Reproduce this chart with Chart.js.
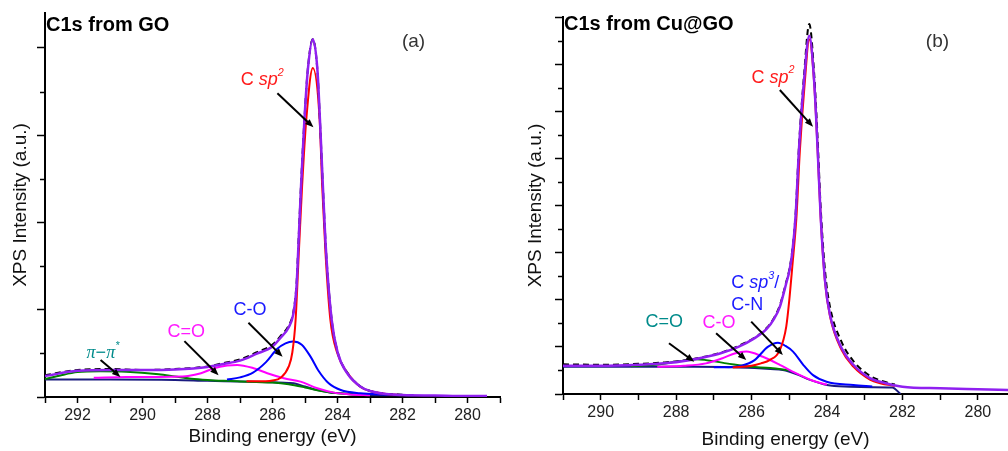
<!DOCTYPE html>
<html>
<head>
<meta charset="utf-8">
<script src="https://cdn.jsdelivr.net/npm/chart.js@4/dist/chart.umd.min.js"></script>
<style>
  body { margin: 0; background: #fff; }
  #wrap { position: relative; width: 1008px; height: 451px; overflow: hidden; }
  canvas { position: absolute; top: 0; }
  #chartA { left: 0; }
  #chartB { left: 505px; }
</style>
</head>
<body>
<div id="wrap">
  <canvas id="chartA" width="505" height="451"></canvas>
  <canvas id="chartB" width="503" height="451"></canvas>
</div>
<script>
// ---- panel (a): C1s from GO ----
const xLabelsA = [292, 290, 288, 286, 284, 282, 280];
const yTicksA = [0, 1, 2, 3, 4];

const envEA = [293, 292, 291, 290, 289, 288, 287.5, 287, 286.5, 286, 285.75, 285.5, 285.36, 285.26, 285.21, 285.12, 285.015, 284.91, 284.76, 284.62, 284.54, 284.45, 284.35, 284.18, 283.99, 283.7, 283.29, 283, 282.5, 282, 281, 280, 279.4];
const envVA = [0.24, 0.30, 0.31, 0.31, 0.316, 0.345, 0.379, 0.417, 0.494, 0.578, 0.68, 0.80, 0.95, 1.27, 1.67, 2.43, 3.195, 3.76, 4.10, 3.76, 3.18, 2.42, 1.655, 0.885, 0.502, 0.272, 0.118, 0.069, 0.034, 0.023, 0.017, 0.011, 0.011];

const rawEA = [293, 292, 291, 290, 289, 288, 287.5, 287, 286.5, 286, 285.75, 285.5, 285.36, 285.26, 285.21, 285.12, 285.015, 284.91, 284.76, 284.62, 284.54, 284.45, 284.35, 284.18, 283.99, 283.7, 283.29, 283, 282.5, 282];
const rawVA = [0.25, 0.31, 0.32, 0.31, 0.32, 0.35, 0.39, 0.43, 0.51, 0.60, 0.70, 0.82, 0.97, 1.30, 1.70, 2.45, 3.2, 3.77, 4.10, 3.75, 3.17, 2.42, 1.66, 0.89, 0.51, 0.28, 0.12, 0.07, 0.035, 0.025];

const sp2EA = [286.8, 286.5, 286, 285.75, 285.5, 285.39, 285.29, 285.19, 285.09, 284.96, 284.76, 284.55, 284.47, 284.37, 284.22, 284.01, 283.7, 283.29, 283, 282.5, 282];
const sp2VA = [0.18, 0.18, 0.19, 0.22, 0.35, 0.51, 0.88, 1.655, 2.41, 3.18, 3.77, 3.18, 2.41, 1.655, 0.885, 0.506, 0.276, 0.115, 0.069, 0.034, 0.023];

const coEA = [287.4, 287.0, 286.6, 286.2, 285.86, 285.6, 285.37, 285.1, 284.83, 284.6, 284.27, 283.9, 283.3, 282.5, 282];
const coVA = [0.20, 0.225, 0.28, 0.40, 0.55, 0.615, 0.636, 0.60, 0.463, 0.31, 0.157, 0.08, 0.043, 0.03, 0.023];

const c2oEA = [291.5, 290.5, 289.5, 288.8, 288.6, 288.2, 287.8, 287.39, 287.09, 286.58, 286.16, 285.65, 285.14, 284.62, 284.11, 283.6, 283];
const c2oVA = [0.22, 0.23, 0.23, 0.235, 0.24, 0.272, 0.33, 0.36, 0.368, 0.33, 0.272, 0.215, 0.176, 0.10, 0.05, 0.03, 0.02];

const piEA = [293, 292.5, 292, 291.3, 290.5, 289.5, 289, 288.5, 288, 287.5, 287, 286.5, 286, 285.5, 285, 284.5, 284, 283.5, 283];
const piVA = [0.205, 0.25, 0.285, 0.295, 0.29, 0.26, 0.235, 0.21, 0.195, 0.185, 0.178, 0.172, 0.165, 0.145, 0.11, 0.07, 0.043, 0.03, 0.025];

const bgEA = [293, 291, 289, 288, 287, 286, 285.5, 285.35, 285, 284.62, 284.2, 283.9, 283.5, 283.1, 282.5, 281.66];
const bgVA = [0.2, 0.2, 0.195, 0.185, 0.178, 0.168, 0.16, 0.157, 0.12, 0.08, 0.05, 0.043, 0.03, 0.023, 0.02, 0.02];

// ---- panel (b): C1s from Cu@GO ----
const xLabelsB = [290, 288, 286, 284, 282, 280];
const yTicksB = [0, 1, 2, 3, 4, 5, 6, 7, 8];

const envEB = [291, 290, 289, 288.3, 287.7, 287.25, 286.8, 286.35, 285.95, 285.6, 285.4, 285.25, 285.08, 285.0, 284.92, 284.83, 284.74, 284.61, 284.47, 284.34, 284.25, 284.17, 284.05, 283.92, 283.61, 283.3, 282.85, 282.59, 282, 281, 280, 279.2];
const envVB = [0.60, 0.60, 0.62, 0.65, 0.71, 0.78, 0.87, 1.0, 1.17, 1.38, 1.6, 1.85, 2.35, 2.6, 3.0, 3.81, 5.23, 6.64, 7.6, 6.64, 5.23, 3.81, 2.39, 1.68, 0.97, 0.62, 0.33, 0.26, 0.155, 0.12, 0.10, 0.085];

const rawEB = [291, 290, 289, 288.3, 287.7, 287.25, 286.8, 286.35, 285.95, 285.6, 285.4, 285.25, 285.08, 285.0, 284.92, 284.83, 284.74, 284.61, 284.47, 284.34, 284.25, 284.17, 284.05, 283.92, 283.61, 283.3, 282.85, 282.59, 282.2];
const rawVB = [0.63, 0.62, 0.64, 0.67, 0.72, 0.79, 0.88, 1.02, 1.18, 1.40, 1.62, 1.88, 2.38, 2.63, 3.05, 3.85, 5.3, 6.75, 7.85, 6.8, 5.45, 4.0, 2.6, 1.85, 1.1, 0.7, 0.38, 0.29, 0.2];

const sp2EB = [286.5, 286.0, 285.75, 285.52, 285.25, 285.08, 284.99, 284.92, 284.81, 284.72, 284.59, 284.47, 284.34, 284.25, 284.17, 284.05, 283.92, 283.61, 283.3, 282.85, 282.59, 282.2];
const sp2VB = [0.56, 0.6, 0.65, 0.72, 0.93, 1.43, 2.07, 2.7, 3.75, 5.15, 6.6, 7.53, 6.6, 5.2, 3.78, 2.36, 1.65, 0.93, 0.58, 0.3, 0.23, 0.17];

const sp3EB = [287.0, 286.6, 286.27, 285.92, 285.57, 285.3, 285.1, 284.9, 284.63, 284.37, 284.01, 283.3, 282.8];
const sp3VB = [0.57, 0.57, 0.6, 0.72, 1.0, 1.09, 1.02, 0.9, 0.62, 0.40, 0.26, 0.19, 0.16];

const coEB = [288.5, 287.8, 287.21, 286.77, 286.45, 286.14, 285.7, 285.25, 284.9, 284.37, 284.0];
const coVB = [0.58, 0.6, 0.65, 0.76, 0.86, 0.90, 0.79, 0.62, 0.47, 0.28, 0.2];

const c2oEB = [289.2, 288.54, 287.9, 287.47, 286.67, 286.04, 285.5, 285.0];
const c2oVB = [0.59, 0.62, 0.70, 0.74, 0.65, 0.58, 0.55, 0.5];

const bgEB = [291, 289, 287.5, 286.5, 285.92, 285.5, 285.17, 284.8, 284.45, 284.0, 283.39, 282.8, 282.27, 282.05];
const bgVB = [0.58, 0.58, 0.58, 0.57, 0.55, 0.53, 0.51, 0.42, 0.30, 0.19, 0.155, 0.145, 0.14, 0];

const FONT = '"Liberation Sans", Arial, sans-serif';
const SERIF = '"Liberation Serif", "Times New Roman", serif';

function pts(xs, ys) {
    return xs.map((x, i) => ({ x: x, y: ys[i] }));
}

function line(xs, ys, color, width, dash) {
    return {
        data: pts(xs, ys),
        borderColor: color,
        borderWidth: width,
        borderDash: dash || [],
        pointRadius: 0,
        fill: false,
        cubicInterpolationMode: 'monotone'
    };
}

function drawRich(ctx, parts, x, y, color, size) {
    ctx.fillStyle = color;
    ctx.textBaseline = 'middle';
    ctx.textAlign = 'left';
    for (const p of parts) {
        const sz = p.sup ? size * 0.6 : size;
        ctx.font = (p.i ? 'italic ' : '') + sz + 'px ' + (p.serif ? SERIF : FONT);
        ctx.fillText(p.t, x, p.sup ? y - size * 0.42 : y);
        x += ctx.measureText(p.t).width;
    }
}

function drawArrow(ctx, x1, y1, x2, y2) {
    const ang = Math.atan2(y2 - y1, x2 - x1);
    const h = 9;
    ctx.strokeStyle = '#000';
    ctx.fillStyle = '#000';
    ctx.lineWidth = 2;
    ctx.beginPath();
    ctx.moveTo(x1, y1);
    ctx.lineTo(x2 - h * 0.7 * Math.cos(ang), y2 - h * 0.7 * Math.sin(ang));
    ctx.stroke();
    ctx.beginPath();
    ctx.moveTo(x2, y2);
    ctx.lineTo(x2 - h * Math.cos(ang - 0.38), y2 - h * Math.sin(ang - 0.38));
    ctx.lineTo(x2 - h * Math.cos(ang + 0.38), y2 - h * Math.sin(ang + 0.38));
    ctx.closePath();
    ctx.fill();
}

// titles, labels, arrows and the minor y ticks
const decor = {
    id: 'decor',
    afterDraw(chart, args, opts) {
        const { ctx, chartArea: a, scales: { x, y } } = chart;
        ctx.save();
        ctx.strokeStyle = '#000';
        ctx.lineWidth = 1.5;
        for (let v = 0.5; v < y.max; v += 1) {
            const py = Math.round(y.getPixelForValue(v)) + 0.5;
            ctx.beginPath();
            ctx.moveTo(a.left - 5, py);
            ctx.lineTo(a.left, py);
            ctx.stroke();
        }
        ctx.fillStyle = '#000';
        ctx.font = 'bold 20px ' + FONT;
        ctx.textAlign = 'left';
        ctx.textBaseline = 'alphabetic';
        ctx.fillText(opts.title, a.left + 1, a.top + opts.titleDy);

        ctx.fillStyle = '#333';
        ctx.font = '19px ' + FONT;
        ctx.textAlign = 'center';
        ctx.textBaseline = 'middle';
        ctx.fillText(opts.tag, x.getPixelForValue(opts.tagAt[0]), y.getPixelForValue(opts.tagAt[1]));

        opts.notes.forEach(n => drawRich(ctx, n.parts, x.getPixelForValue(n.x), y.getPixelForValue(n.y), n.color, 18));
        opts.arrows.forEach(r => drawArrow(ctx, x.getPixelForValue(r[0]), y.getPixelForValue(r[1]),
            x.getPixelForValue(r[2]), y.getPixelForValue(r[3])));
        ctx.restore();
    }
};

const RED = '#ff1a1a', BLUE = '#1a1aff', PINK = '#ff1aff', TEAL = '#008b8b';

const notesA = [
    { x: 286.98, y: 3.63, color: RED, parts: [{ t: 'C ' }, { t: 'sp', i: 1 }, { t: '2', i: 1, sup: 1 }] },
    { x: 287.2, y: 1.0, color: BLUE, parts: [{ t: 'C-O' }] },
    { x: 289.23, y: 0.745, color: PINK, parts: [{ t: 'C=O' }] },
    { x: 291.72, y: 0.50, color: TEAL, parts: [{ t: 'π', i: 1, serif: 1 }, { t: '−' }, { t: 'π', i: 1, serif: 1 }, { t: '*', i: 1, sup: 1 }] }
];
const arrowsA = [
    [285.85, 3.48, 284.74, 3.09],
    [286.74, 0.85, 285.69, 0.46],
    [288.71, 0.64, 287.66, 0.25],
    [291.29, 0.424, 290.68, 0.23]
];

const notesB = [
    { x: 286.0, y: 6.71, color: RED, parts: [{ t: 'C ' }, { t: 'sp', i: 1 }, { t: '2', i: 1, sup: 1 }] },
    { x: 286.54, y: 2.35, color: BLUE, parts: [{ t: 'C ' }, { t: 'sp', i: 1 }, { t: '3', i: 1, sup: 1 }, { t: '/' }] },
    { x: 286.54, y: 1.89, color: BLUE, parts: [{ t: 'C-N' }] },
    { x: 287.30, y: 1.50, color: PINK, parts: [{ t: 'C-O' }] },
    { x: 288.81, y: 1.535, color: TEAL, parts: [{ t: 'C=O' }] }
];
const arrowsB = [
    [285.25, 6.45, 284.37, 5.67],
    [286.01, 1.535, 285.17, 0.828],
    [286.94, 1.29, 286.14, 0.72],
    [288.19, 1.076, 287.52, 0.686]
];

function makePanel(id, p) {
    const ctx = document.getElementById(id).getContext('2d');
    return new Chart(ctx, {
        type: 'line',
        data: { datasets: p.datasets },
        plugins: [decor],
        options: {
            responsive: false,
            animation: false,
            devicePixelRatio: 1,
            layout: { padding: { top: p.top, right: p.right, bottom: 0, left: 0 } },
            plugins: {
                legend: { display: false },
                tooltip: { enabled: false },
                decor: { title: p.title, titleDy: p.titleDy, tag: p.tag, tagAt: p.tagAt, notes: p.notes, arrows: p.arrows }
            },
            scales: {
                x: {
                    type: 'linear',
                    reverse: true,
                    min: p.xMin,
                    max: p.xMax,
                    afterBuildTicks: s => {
                        const t = [];
                        for (let v = Math.ceil(s.min); v <= Math.floor(s.max); v++) t.push({ value: v });
                        s.ticks = t;
                    },
                    afterFit: s => { s.height = p.xAxisH; },
                    ticks: {
                        autoSkip: false,
                        maxRotation: 0,
                        padding: 3,
                        color: '#222',
                        font: { family: FONT, size: 16 },
                        callback: v => p.xLabels.includes(v) ? String(v) : ''
                    },
                    grid: { drawOnChartArea: false, tickLength: 6, tickWidth: 1.5, tickColor: '#000' },
                    border: { color: '#000', width: 2 },
                    title: {
                        display: true,
                        text: 'Binding energy (eV)',
                        color: '#111',
                        font: { family: FONT, size: 19 },
                        padding: { top: 0, bottom: p.xTitlePad }
                    }
                },
                y: {
                    min: 0,
                    max: p.yMax,
                    afterBuildTicks: s => { s.ticks = p.yTicks.map(v => ({ value: v })); },
                    afterFit: s => { s.width = p.yAxisW; },
                    ticks: { display: false },
                    grid: { drawOnChartArea: false, tickLength: 8, tickWidth: 1.5, tickColor: '#000' },
                    border: { color: '#000', width: 2 },
                    title: {
                        display: true,
                        text: 'XPS Intensity (a.u.)',
                        color: '#111',
                        font: { family: FONT, size: 19 },
                        padding: { top: p.yTitlePad, bottom: 0 }
                    }
                }
            }
        }
    });
}

makePanel('chartA', {
    datasets: [
        line(envEA, envVA, '#9020f0', 2.5),
        line(rawEA, rawVA, '#000', 2, [6, 4]),
        line(sp2EA, sp2VA, '#ff0000', 2),
        line(coEA, coVA, '#0000ff', 2),
        line(c2oEA, c2oVA, '#ff00ff', 2),
        line(piEA, piVA, '#008000', 2),
        line(bgEA, bgVA, '#1a1a80', 2)
    ],
    xMin: 279, xMax: 293, xLabels: xLabelsA,
    yMax: 4.4, yTicks: yTicksA,
    top: 13, right: 5, xAxisH: 54, yAxisW: 45, xTitlePad: 3, yTitlePad: 9,
    title: 'C1s from GO', titleDy: 18, tag: '(a)', tagAt: [281.66, 4.07],
    notes: notesA, arrows: arrowsA
});

makePanel('chartB', {
    datasets: [
        line(envEB, envVB, '#9020f0', 2.5),
        line(rawEB, rawVB, '#000', 2, [6, 4]),
        line(sp2EB, sp2VB, '#ff0000', 2),
        line(sp3EB, sp3VB, '#0000ff', 2),
        line(coEB, coVB, '#ff00ff', 2),
        line(c2oEB, c2oVB, '#008000', 2),
        line(bgEB, bgVB, '#1a1a80', 2)
    ],
    xMin: 279.2, xMax: 291, xLabels: xLabelsB,
    yMax: 8, yTicks: yTicksB,
    top: 17, right: 0, xAxisH: 57, yAxisW: 58, xTitlePad: 0, yTitlePad: 19,
    title: 'C1s from Cu@GO', titleDy: 13, tag: '(b)', tagAt: [281.07, 7.47],
    notes: notesB, arrows: arrowsB
});
</script>
</body>
</html>
